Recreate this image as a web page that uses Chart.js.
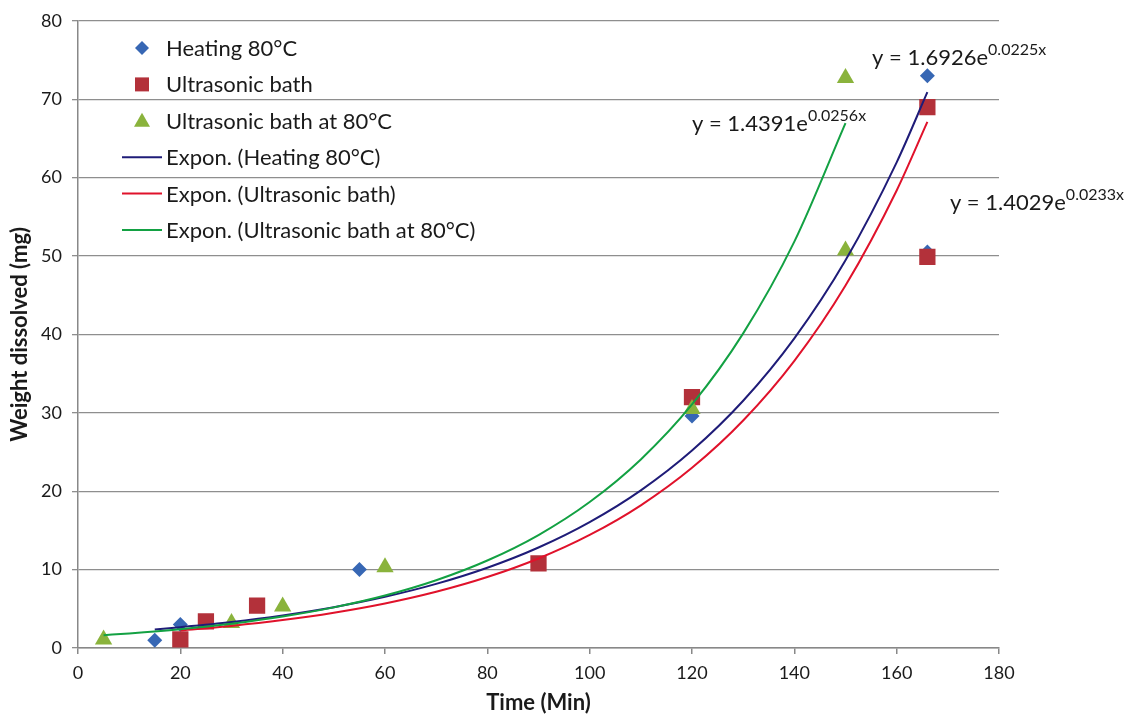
<!DOCTYPE html>
<html lang="en">
<head>
<meta charset="UTF-8">
<title>Weight dissolved vs time</title>
<script src="https://cdn.jsdelivr.net/npm/chart.js"></script>
<style>
    body { margin: 0; background: #fff; }
    #wrap { width: 1129px; height: 720px; }
</style>
</head>
<body>
<div id="wrap"><canvas id="grafico" width="1129" height="720"></canvas></div>
<script>
    const heatX = [15, 20, 55, 120, 166, 166];
    const heatY = [1.0, 3.0, 10.0, 29.6, 73.0, 50.5];
    const ultraX = [20, 25, 35, 90, 120, 166, 166];
    const ultraY = [1.1, 3.4, 5.4, 10.8, 32.0, 69.0, 49.9];
    const ultra80X = [5, 30, 40, 60, 120, 150, 150];
    const ultra80Y = [1.1, 3.2, 5.3, 10.3, 30.5, 72.7, 50.7];

    // exponential trend lines
    const trendHeatX = [15, 20, 30, 40, 50, 60, 70, 80, 90, 100, 110, 120, 130, 140, 150, 160, 166];
    const trendHeatY = [2.37, 2.66, 3.32, 4.16, 5.21, 6.53, 8.18, 10.24, 12.82, 16.06, 20.11, 25.19, 31.54, 39.50, 49.46, 61.95, 70.89];
    const trendUltraX = [20, 30, 40, 50, 60, 70, 80, 90, 100, 110, 120, 130, 140, 150, 160, 166];
    const trendUltraY = [2.24, 2.82, 3.56, 4.50, 5.68, 7.17, 9.05, 11.42, 14.42, 18.20, 22.98, 29.01, 36.62, 46.23, 58.36, 67.10];
    const trendUltra80X = [5, 10, 20, 30, 40, 50, 60, 70, 80, 90, 100, 110, 120, 130, 140, 150];
    const trendUltra80Y = [1.64, 1.86, 2.40, 3.10, 4.01, 5.18, 6.69, 8.64, 11.16, 14.41, 18.62, 24.05, 31.06, 40.13, 51.83, 66.95];

    const legendLabels = ["Heating 80°C", "Ultrasonic bath", "Ultrasonic bath at 80°C",
        "Expon. (Heating 80°C)", "Expon. (Ultrasonic bath)", "Expon. (Ultrasonic bath at 80°C)"];

    // trend equations: [text, exponent, x, y] (x, y in data units, text baseline)
    const equacoes = [
        ["y = 1.6926e", "0.0225x", 155.2, 74.4],
        ["y = 1.4391e", "0.0256x", 120.0, 66.0],
        ["y = 1.4029e", "0.0233x", 170.4, 55.9]
    ];

    const corAzul = '#3767B4';
    const corVermelho = '#B3313A';
    const corVerde = '#8AB33C';
    const linhaAzul = '#1F1C78';
    const linhaVermelha = '#E0122B';
    const linhaVerde = '#13A143';

    function pares(xs, ys) {
        let out = [];
        for (let i = 0; i < xs.length; i++) out.push({ x: xs[i], y: ys[i] });
        return out;
    }

    function marcador(ctx, tipo, cor, x, y) {
        ctx.save();
        ctx.fillStyle = cor;
        ctx.beginPath();
        if (tipo == 'diamond') {
            ctx.moveTo(x, y - 7); ctx.lineTo(x + 7, y); ctx.lineTo(x, y + 7); ctx.lineTo(x - 7, y);
        } else if (tipo == 'square') {
            ctx.rect(x - 7, y - 7, 14, 14);
        } else {
            ctx.moveTo(x, y - 8); ctx.lineTo(x + 8, y + 6); ctx.lineTo(x - 8, y + 6);
        }
        ctx.closePath();
        ctx.fill();
        ctx.restore();
    }

    const legendaPlugin = {
        id: 'legendaInterna',
        afterDraw(chart) {
            const ctx = chart.ctx;
            const tipos = ['diamond', 'square', 'triangle'];
            const cores = [corAzul, corVermelho, corVerde];
            const linhas = [linhaAzul, linhaVermelha, linhaVerde];
            ctx.save();
            ctx.font = '22px Lato';
            ctx.fillStyle = '#1a1a1a';
            ctx.textBaseline = 'middle';
            for (let i = 0; i < legendLabels.length; i++) {
                const y = 48 + i * 36.4;
                if (i < 3) {
                    marcador(ctx, tipos[i], cores[i], 142, y);
                } else {
                    ctx.strokeStyle = linhas[i - 3];
                    ctx.lineWidth = 2;
                    ctx.beginPath();
                    ctx.moveTo(122, y);
                    ctx.lineTo(162, y);
                    ctx.stroke();
                }
                ctx.fillText(legendLabels[i], 166, y + 1);
            }
            ctx.restore();
        }
    };

    const equacaoPlugin = {
        id: 'equacoes',
        afterDraw(chart) {
            const ctx = chart.ctx;
            const sx = chart.scales.x, sy = chart.scales.y;
            ctx.save();
            ctx.fillStyle = '#1a1a1a';
            ctx.textBaseline = 'alphabetic';
            equacoes.forEach(function (e) {
                const px = sx.getPixelForValue(e[2]);
                const py = sy.getPixelForValue(e[3]);
                ctx.font = '22px Lato';
                ctx.fillText(e[0], px, py);
                const w = ctx.measureText(e[0]).width;
                ctx.font = '16px Lato';
                ctx.fillText(e[1], px + w, py - 10);
            });
            ctx.restore();
        }
    };

    Chart.defaults.font.family = 'Lato';
    Chart.defaults.color = '#1a1a1a';

    const dados = {
        datasets: [
            { label: legendLabels[0], data: pares(heatX, heatY), pointStyle: 'rectRot', pointRadius: 7.5,
              backgroundColor: corAzul, borderColor: corAzul, borderWidth: 0, showLine: false, order: 6 },
            { label: legendLabels[1], data: pares(ultraX, ultraY), pointStyle: 'rect', pointRadius: 11.5,
              backgroundColor: corVermelho, borderColor: corVermelho, borderWidth: 0, showLine: false, order: 5 },
            { label: legendLabels[2], data: pares(ultra80X, ultra80Y), pointStyle: 'triangle', pointRadius: 10,
              backgroundColor: corVerde, borderColor: corVerde, borderWidth: 0, showLine: false, order: 4 },
            { label: legendLabels[3], data: pares(trendHeatX, trendHeatY), showLine: true, pointRadius: 0,
              borderColor: linhaAzul, borderWidth: 2, cubicInterpolationMode: 'monotone', order: 3 },
            { label: legendLabels[4], data: pares(trendUltraX, trendUltraY), showLine: true, pointRadius: 0,
              borderColor: linhaVermelha, borderWidth: 2, cubicInterpolationMode: 'monotone', order: 2 },
            { label: legendLabels[5], data: pares(trendUltra80X, trendUltra80Y), showLine: true, pointRadius: 0,
              borderColor: linhaVerde, borderWidth: 2, cubicInterpolationMode: 'monotone', order: 1 }
        ]
    };

    const config = {
        type: 'scatter',
        data: dados,
        options: {
            responsive: false,
            animation: false,
            layout: { padding: { left: 0, right: 130, top: 18, bottom: 0 } },
            plugins: {
                legend: { display: false },
                tooltip: { enabled: false }
            },
            scales: {
                x: {
                    type: 'linear', min: 0, max: 180,
                    ticks: { stepSize: 20, padding: 8, font: { size: 18 } },
                    grid: { drawOnChartArea: false, drawTicks: true, tickLength: 6, color: '#888', lineWidth: 1.5 },
                    border: { color: '#888', width: 1.5 },
                    title: { display: true, text: 'Time (Min)', font: { size: 22, weight: 'bold' }, padding: { top: 0 } },
                    afterFit: function (s) { s.height = 72; }
                },
                y: {
                    type: 'linear', min: 0, max: 80,
                    ticks: { stepSize: 10, padding: 10, font: { size: 18 } },
                    grid: { color: '#8E8E8E', lineWidth: 1.3, tickLength: 6 },
                    border: { color: '#888', width: 1.5 },
                    title: { display: true, text: 'Weight dissolved (mg)', font: { size: 22, weight: 'bold' }, padding: { top: 7, bottom: 0 } },
                    afterFit: function (s) { s.width = 78; }
                }
            }
        },
        plugins: [legendaPlugin, equacaoPlugin]
    };

    let grafico = new Chart(document.getElementById('grafico'), config);
</script>
</body>
</html>
